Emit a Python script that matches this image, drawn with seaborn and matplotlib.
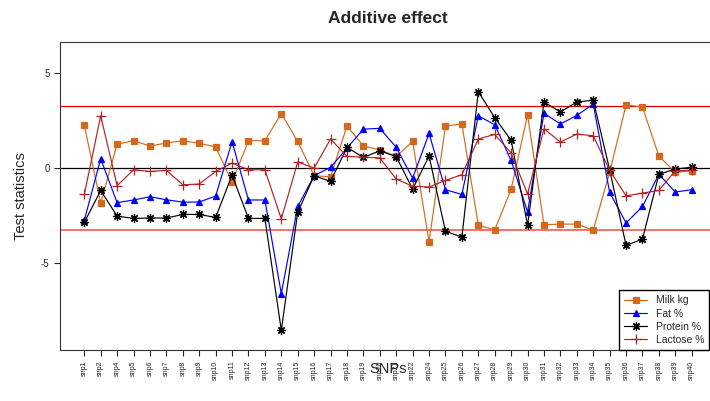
import pandas as pd
import matplotlib
matplotlib.use("Agg")
import matplotlib.pyplot as plt
import numpy as np
import seaborn as sns

# SNP labels (snp3 and snp23 are missing in the original)
snps = ['snp1', 'snp2', 'snp4', 'snp5', 'snp6', 'snp7', 'snp8', 'snp9', 'snp10',
        'snp11', 'snp12', 'snp13', 'snp14', 'snp15', 'snp16', 'snp17', 'snp18',
        'snp19', 'snp20', 'snp21', 'snp22', 'snp24', 'snp25', 'snp26', 'snp27',
        'snp28', 'snp29', 'snp30', 'snp31', 'snp32', 'snp33', 'snp34', 'snp35',
        'snp36', 'snp37', 'snp38', 'snp39', 'snp40']

# test statistics
milk = [2.26, -1.84, 1.26, 1.44, 1.16, 1.32, 1.44, 1.30, 1.12, -0.74, 1.44, 1.44, 2.87,
        1.40, -0.40, -0.46, 2.21, 1.16, 0.96, 0.61, 1.40, -3.88, 2.21, 2.32, -3.00,
        -3.26, -1.11, 2.79, -2.98, -2.95, -2.95, -3.26, -0.23, 3.33, 3.21, 0.63, -0.23, -0.14]
fat = [-2.75, 0.49, -1.82, -1.68, -1.51, -1.67, -1.79, -1.79, -1.47, 1.39, -1.68, -1.68, -6.61,
       -2.02, -0.40, 0.04, 1.05, 2.05, 2.09, 1.09, -0.53, 1.82, -1.14, -1.39, 2.75,
       2.28, 0.40, -2.32, 2.89, 2.32, 2.77, 3.37, -1.28, -2.89, -2.02, -0.33, -1.26, -1.14]
protein = [-2.86, -1.18, -2.53, -2.65, -2.63, -2.63, -2.44, -2.44, -2.60, -0.37, -2.65, -2.65, -8.54,
           -2.33, -0.40, -0.70, 1.09, 0.56, 0.91, 0.60, -1.11, 0.63, -3.33, -3.63, 4.02,
           2.65, 1.46, -3.00, 3.47, 2.96, 3.47, 3.58, -0.09, -4.07, -3.74, -0.33, -0.05, 0.04]
lactose = [-1.39, 2.75, -0.93, -0.09, -0.18, -0.12, -0.88, -0.84, -0.18, 0.26, -0.09, -0.09, -2.68,
           0.32, 0.00, 1.53, 0.61, 0.58, 0.53, -0.58, -0.96, -1.00, -0.65, -0.35, 1.53,
           1.77, 0.79, -1.37, 2.07, 1.37, 1.79, 1.70, -0.12, -1.46, -1.32, -1.18, -0.14, -0.12]

threshold = 3.26

sns.set_style("ticks")
plt.rcParams['font.family'] = ['Liberation Sans', 'DejaVu Sans']

fig = plt.figure(figsize=(7.1, 4.01), dpi=100)
ax = fig.add_axes([0.0845, 0.127, 0.924, 0.768])

pos = np.arange(len(snps))
series = [
    ("Milk kg", milk, "#D2691E", "s", 4),
    ("Fat %", fat, "#0000FF", "^", 4.5),
    ("Protein %", protein, "#000000", (8, 2, 0), 6),
    ("Lactose %", lactose, "#B22222", "+", 7),
]
for name, vals, col, mk, ms in series:
    df = pd.DataFrame({"x": pos, "y": vals})
    sns.lineplot(data=df, x="x", y="y", ax=ax, color=col, marker=mk, markersize=ms,
                 markeredgecolor=col, markerfacecolor=col, markeredgewidth=0.9,
                 linewidth=0.85, label=name, sort=False)

# reference lines
ax.axhline(0, color="black", lw=0.9, zorder=0)
ax.axhline(threshold, color="#E00000", lw=0.9, zorder=0)
ax.axhline(-threshold, color="#FF5555", lw=1.2, zorder=0)

ax.set_xlim(-1.48, 38.48)
ax.set_ylim(-9.58, 6.63)
ax.set_xticks(pos)
ax.set_xticklabels(snps, rotation=90, fontsize=5)
ax.set_yticks([5, 0, -5])
ax.set_yticklabels(["5", "0", "-5"], fontsize=7)
ax.tick_params(axis="both", direction="out", length=4, width=0.8)

ax.set_xlabel("SNPs", fontsize=10.5)
ax.xaxis.set_label_coords(0.5, -0.038)
ax.set_ylabel("Test statistics", fontsize=10.5, labelpad=9)
ax.set_title("Additive effect", fontsize=12.5, fontweight="bold", pad=14)

for s in ax.spines.values():
    s.set_linewidth(0.8)
    s.set_color("#333333")

ax.legend(loc="lower right", bbox_to_anchor=(0.999, 0.127), bbox_transform=fig.transFigure,
          fontsize=7.5, frameon=True, fancybox=False, edgecolor="black", framealpha=1,
          borderaxespad=0, handlelength=2.2, labelspacing=0.3, borderpad=0.5)

fig.savefig("out.png", dpi=100)
